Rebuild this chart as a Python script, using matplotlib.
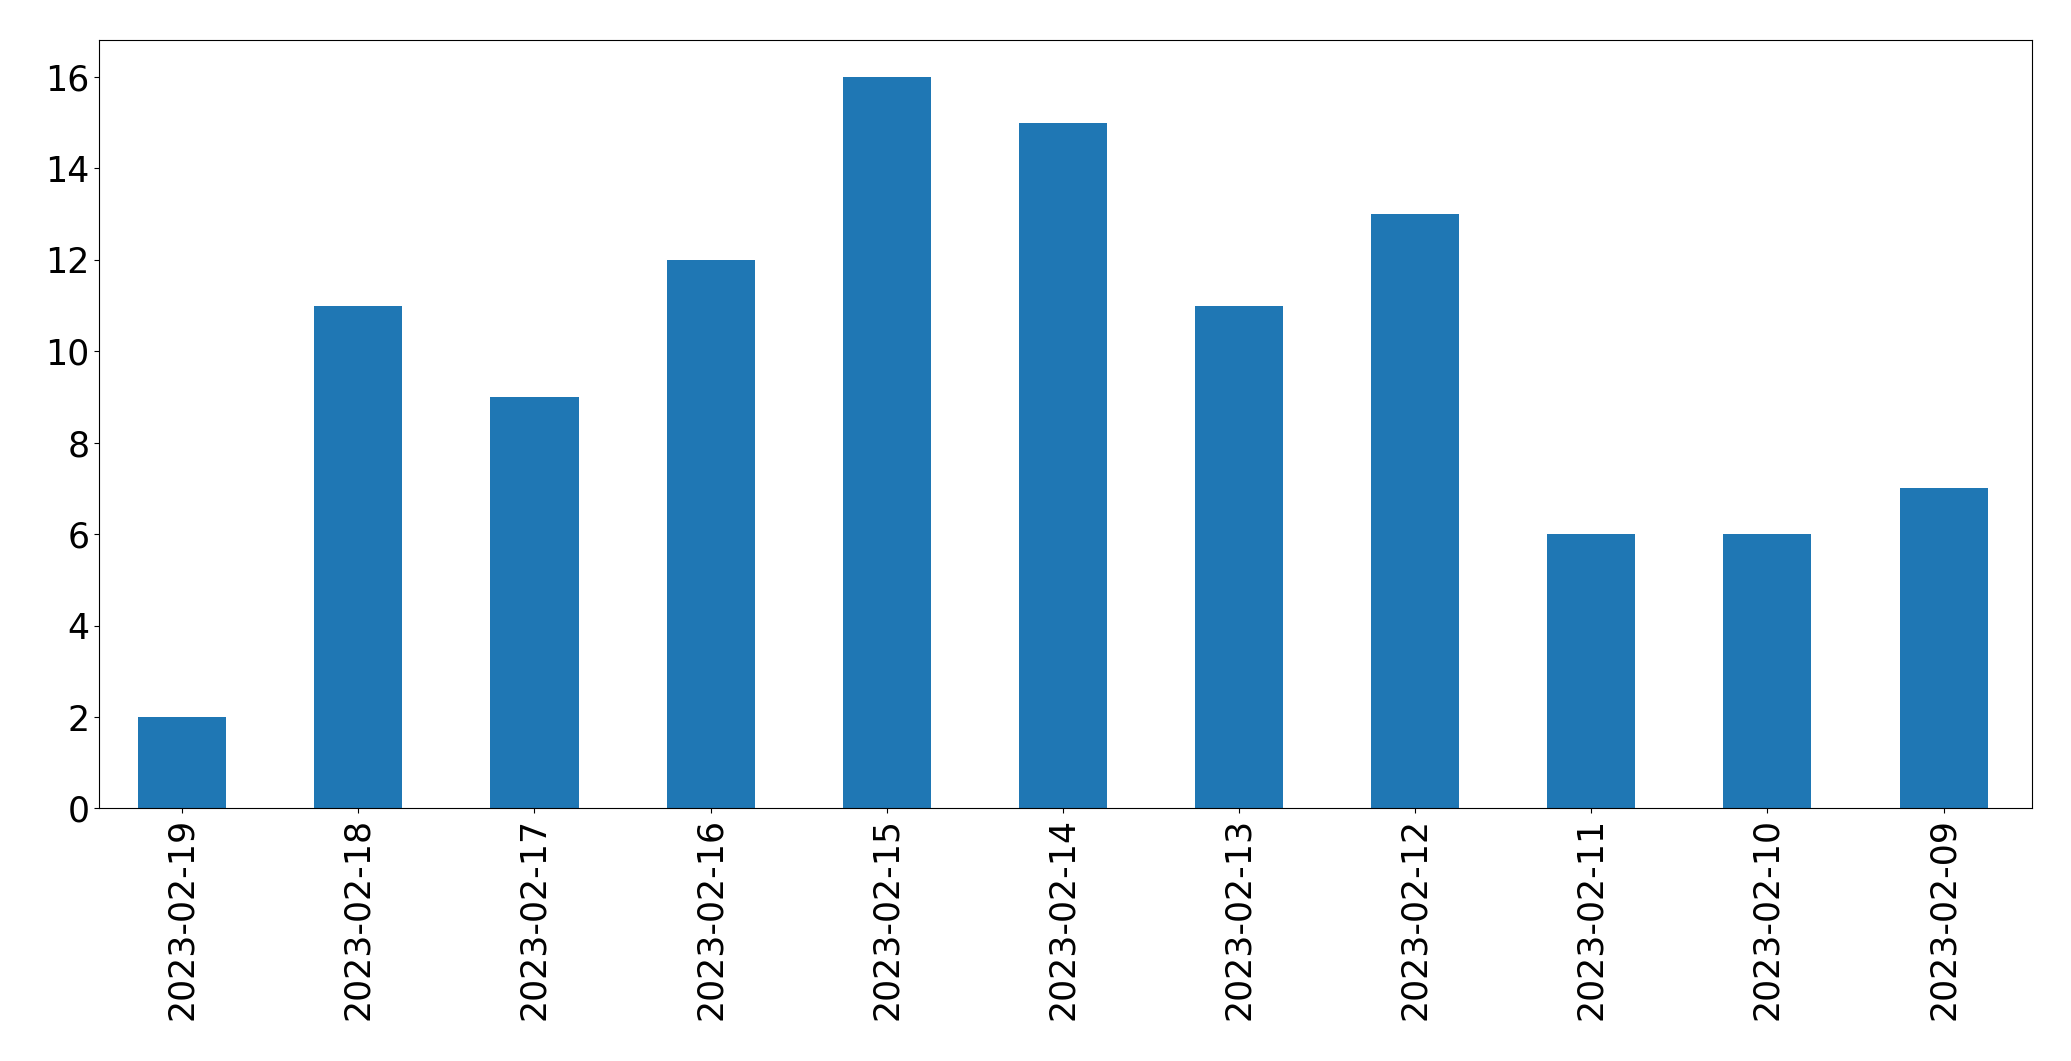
import matplotlib
matplotlib.use("Agg")
import matplotlib.pyplot as plt
import numpy as np

# dates and counts
dates = ["2023-02-19", "2023-02-18", "2023-02-17", "2023-02-16", "2023-02-15",
         "2023-02-14", "2023-02-13", "2023-02-12", "2023-02-11", "2023-02-10",
         "2023-02-09"]
counts = [2, 11, 9, 12, 16, 15, 11, 13, 6, 6, 7]

fig = plt.figure(figsize=(20.71, 10.61), dpi=100)
ax = fig.add_axes([0.048, 0.238, 0.933, 0.724])

x = np.arange(len(dates))
ax.bar(x, counts, width=0.5, color="#1f77b4")
ax.set_xlim(-0.47, len(dates) - 0.5)
ax.set_ylim(0, 16.8)
ax.set_xticks(x)
ax.set_xticklabels(dates, rotation=90)
ax.tick_params(axis="both", labelsize=25)

fig.savefig("out.png", dpi=100)
